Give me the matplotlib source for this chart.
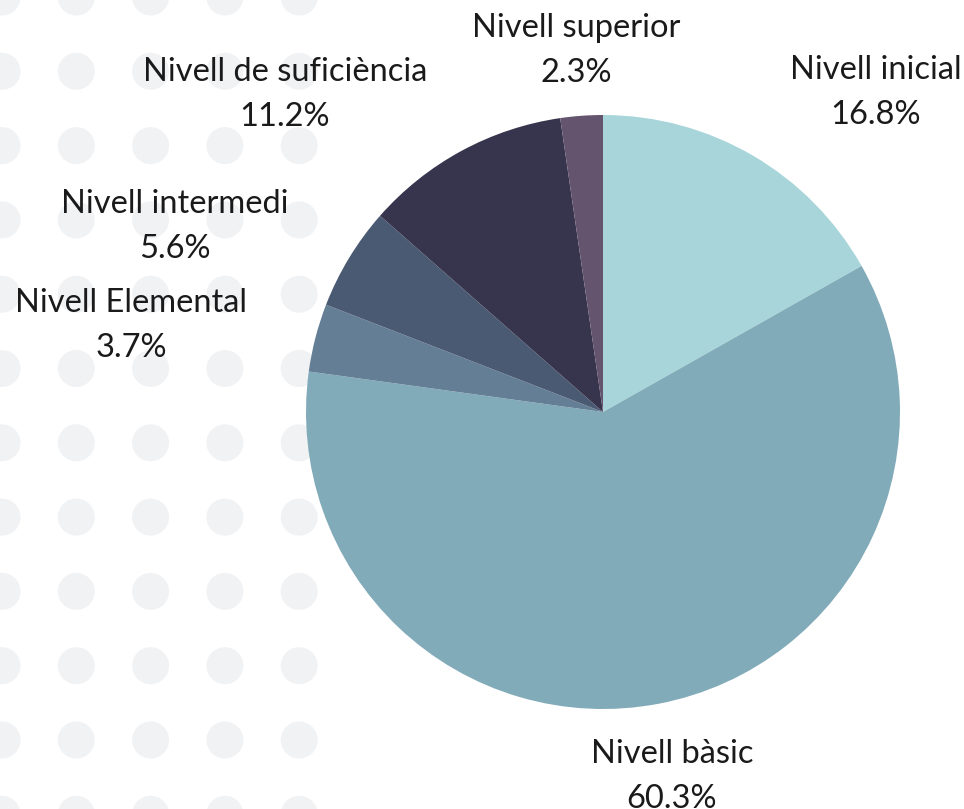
import matplotlib.pyplot as plt
from matplotlib.patches import Circle

# data
levels = ['Nivell inicial', 'Nivell bàsic', 'Nivell Elemental',
          'Nivell intermedi', 'Nivell de suficiència', 'Nivell superior']
shares = [16.8, 60.3, 3.7, 5.6, 11.2, 2.3]
colors = ['#a8d5da', '#82abb9', '#647f95', '#4b5a73', '#37354d', '#65546e']

# label anchor (pixel centre x, baseline y of first line)
label_px = [(876, 79), (672, 763), (131, 312), (175, 213), (285, 81), (576, 37)]

W, H = 964, 809
cx, cy, R = 603, 412, 297   # pie centre / radius in pixels

plt.rcParams['font.family'] = ['Lato', 'DejaVu Sans']

fig = plt.figure(figsize=(W / 100, H / 100), dpi=100)
ax = fig.add_axes([0, 0, 1, 1])


def px(x, y):
    return (x - cx) / R, (cy - y) / R


# background dot grid
for i in range(5):
    for j in range(12):
        dx, dy = px(2 + 74.3 * i, -3 + 74.3 * j)
        ax.add_patch(Circle((dx, dy), 18.5 / R, color='#f1f2f4', lw=0, zorder=0))

ax.pie(shares, colors=colors, startangle=90, counterclock=False,
       radius=1, wedgeprops=dict(linewidth=0), center=(0, 0), frame=True)
ax.set_xlim(-cx / R, (W - cx) / R)
ax.set_ylim(-(H - cy) / R, cy / R)
ax.axis('off')

for name, val, (lx, ly) in zip(levels, shares, label_px):
    x1, y1 = px(lx, ly)
    x2, y2 = px(lx, ly + 45)
    ax.text(x1, y1, name, ha='center', va='baseline', fontsize=23.5, color='#1a1a1a')
    ax.text(x2, y2, f'{val}%', ha='center', va='baseline', fontsize=23.5, color='#1a1a1a')

fig.savefig('out.png', dpi=100)
